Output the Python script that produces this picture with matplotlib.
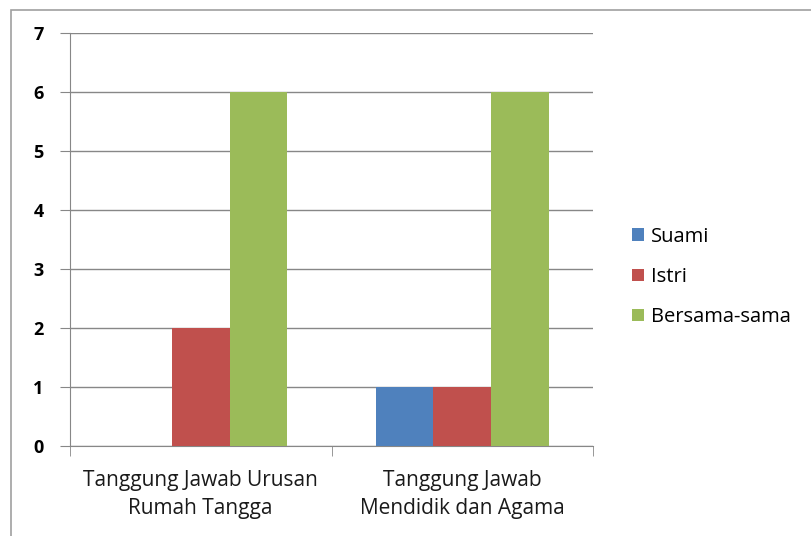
import matplotlib.pyplot as plt
import numpy as np
from matplotlib.patches import Rectangle

categories = ['Tanggung Jawab Urusan\nRumah Tangga', 'Tanggung Jawab\nMendidik dan Agama']
series = ['Suami', 'Istri', 'Bersama-sama']
suami = [0, 1]
istri = [2, 1]
bersama = [6, 6]
colors = ['#4F81BD', '#C0504D', '#9BBB59']

plt.rcParams['font.family'] = ['Open Sans', 'DejaVu Sans']

fig = plt.figure(figsize=(8.11, 5.36), dpi=100)
ax = fig.add_axes([70/811, 1-446/536, (593-70)/811, (446-33)/536])

# outer chart border
fig.patches.append(Rectangle((11/811, -0.1), 1.2, 1-10/536+0.1, transform=fig.transFigure,
                             fill=False, edgecolor='#A0A0A0', linewidth=1.2))

x = np.arange(len(categories))
w = 0.22
for i, (vals, name) in enumerate(zip([suami, istri, bersama], series)):
    ax.bar(x + (i-1)*w, vals, width=w, color=colors[i], label=name, zorder=3)

ax.set_xlim(-0.5, 1.5)
ax.set_ylim(0, 7)
ax.set_yticks(range(0, 8))
ax.set_yticklabels([str(v) for v in range(0, 8)], fontweight='bold', fontsize=13)
ax.yaxis.grid(True, color='#878787', linewidth=1, zorder=0)
ax.set_xticks(x)
ax.set_xticklabels(categories, fontsize=15, linespacing=1.45, color='#1a1a1a')
ax.tick_params(axis='x', length=0, pad=17)
ax.tick_params(axis='y', length=7, color='#878787', pad=12)
# category boundary ticks
ax.set_xticks([-0.5, 0.5, 1.5], minor=True)
ax.tick_params(axis='x', which='minor', length=7, color='#878787')
for s in ['top', 'right']:
    ax.spines[s].set_visible(False)
for s in ['left', 'bottom']:
    ax.spines[s].set_color('#878787')

fig.legend(loc='center left', bbox_to_anchor=(614/811, 1-277/536), frameon=False,
           fontsize=14.5, handlelength=0.6, handleheight=0.6, handletextpad=0.35,
           labelspacing=1.0)

fig.savefig('out.png', dpi=100)
